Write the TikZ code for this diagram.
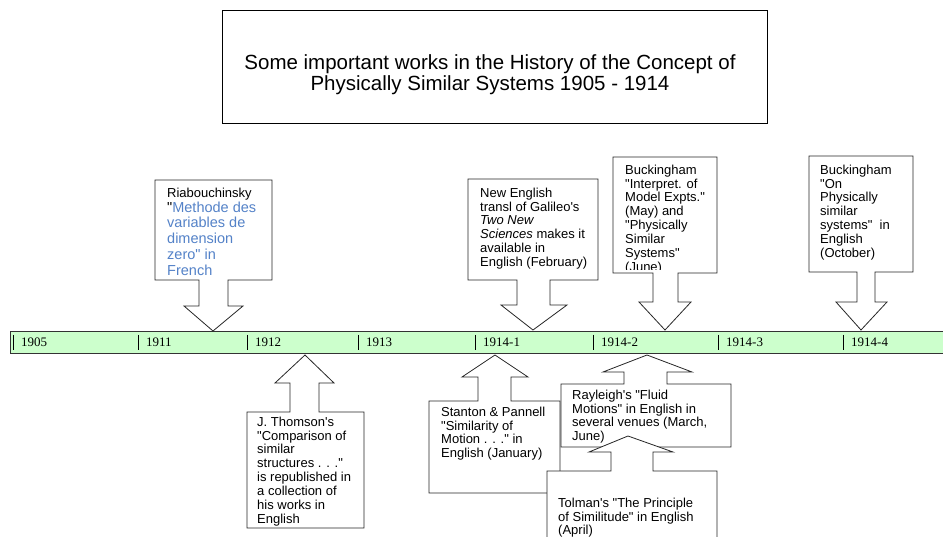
\documentclass[tikz,border=0pt]{standalone}
\usepackage{fontspec}
\setmainfont{Liberation Sans}[Ligatures=TeXOff]
\newfontfamily\yearfont{Liberation Serif}
\definecolor{barfill}{RGB}{204,255,204}
\definecolor{zeroblue}{RGB}{84,130,200}
\tikzset{
	callout/.style={draw=black!85, fill=white, line width=0.8pt},
	note/.style={anchor=north west, align=left, inner sep=0pt, font=\fontsize{13}{13.9}\selectfont},
	yearlabel/.style={anchor=base west, inner sep=0pt, font=\yearfont\fontsize{13}{13}\selectfont}
}
\begin{document}
\begin{tikzpicture}[x=1pt, y=-1pt]
				\useasboundingbox (0,0) rectangle (943,537);

				% title
				\draw[line width=0.8pt] (222,10) rectangle (767,123);
				\node[align=center, font=\fontsize{20.5}{21}\selectfont] (title) at (490,75) {Some important works in the History of the Concept of\\ Physically Similar Systems 1905 - 1914};

				% time bar
				\draw[fill=barfill, draw=black!80, line width=0.8pt] (10,331) rectangle (950,353);
				\foreach \x/\yr [count=\i] in {13/1905, 138/1911, 247/1912, 358/1913, 475/1914-1, 593/1914-2, 718/1914-3, 843/1914-4}{
					\draw[line width=0.8pt] (\x,335) -- (\x,350);
					\node[yearlabel] (year\i) at (\x+8,347) {\yr};
				}

				% callouts above the bar
				\draw[callout] (155,180) -- (272,180) -- (272,280) -- (228,280) -- (228,306) -- (243,306) -- (213,331) -- (184,306) -- (199,306) -- (199,280) -- (155,280) -- cycle;
				\node[note] (riab) at (167,187.5) {Riabouchinsky};
				\node[note, font=\fontsize{14.5}{15.7}\selectfont, text=zeroblue] (riabwork) at (167,201.5) {{\color{black}"}Methode des\\ variables de\\ dimension\\ zero" in\\ French};

				\draw[callout] (468,179) -- (598,179) -- (598,280) -- (550,280) -- (550,305) -- (567,305) -- (533,330) -- (501,305) -- (517,305) -- (517,280) -- (468,280) -- cycle;
				\node[note] (galileo) at (480,187.5) {New English\\ transl of Galileo's\\ \textit{Two New}\\ \textit{Sciences} makes it\\ available in\\ English (February)};

				\draw[callout] (613,157) -- (717,157) -- (717,273) -- (678,273) -- (678,302) -- (691,302) -- (665,330) -- (639,302) -- (653,302) -- (653,273) -- (613,273) -- cycle;
				\begin{scope}
					\clip (613,157) rectangle (717,270);
					\node[note] (buckmodel) at (625,164.5) {Buckingham\\ "Interpret. of\\ Model Expts."\\ (May) and\\ "Physically\\ Similar\\ Systems"\\ (June)};
				\end{scope}

				\draw[callout] (809,156) -- (913,156) -- (913,272) -- (875,272) -- (875,302) -- (887,302) -- (861,330) -- (836,302) -- (857,302) -- (857,272) -- (809,272) -- cycle;
				\node[note] (buckphys) at (820,164.5) {Buckingham\\ "On\\ Physically\\ similar\\ systems"~ in\\ English\\ (October)};

				% callouts below the bar
				\draw[callout] (247,412) -- (290,412) -- (290,383) -- (275,383) -- (305,355) -- (334,383) -- (319,383) -- (319,412) -- (364,412) -- (364,528) -- (247,528) -- cycle;
				\node[note] (thomson) at (257,416.5) {J. Thomson's\\ "Comparison of\\ similar\\ structures . . ."\\ is republished in\\ a collection of\\ his works in\\ English};

				\draw[callout] (429,401) -- (478,401) -- (478,377) -- (462,377) -- (495,355) -- (528,377) -- (511,377) -- (511,401) -- (560,401) -- (560,493) -- (429,493) -- cycle;
				\node[note] (stanton) at (441,406.5) {Stanton \& Pannell\\ "Similarity of\\ Motion . . ." in\\ English (January)};

				\draw[callout] (561,384) -- (624,384) -- (624,372) -- (603,372) -- (647,355) -- (692,372) -- (667,372) -- (667,384) -- (731,384) -- (731,447) -- (561,447) -- cycle;
				\node[note] (rayleigh) at (572,389.5) {Rayleigh's "Fluid\\ Motions" in English in\\ several venues (March,\\ June)};

				\draw[callout] (547,471) -- (611,471) -- (611,452) -- (589,452) -- (628,436) -- (673,452) -- (653,452) -- (653,471) -- (717,471) -- (717,560) -- (547,560) -- cycle;
				\node[note] (tolman) at (558,497.5) {Tolman's "The Principle\\ of Similitude" in English\\ (April)};

\end{tikzpicture}
\end{document}
